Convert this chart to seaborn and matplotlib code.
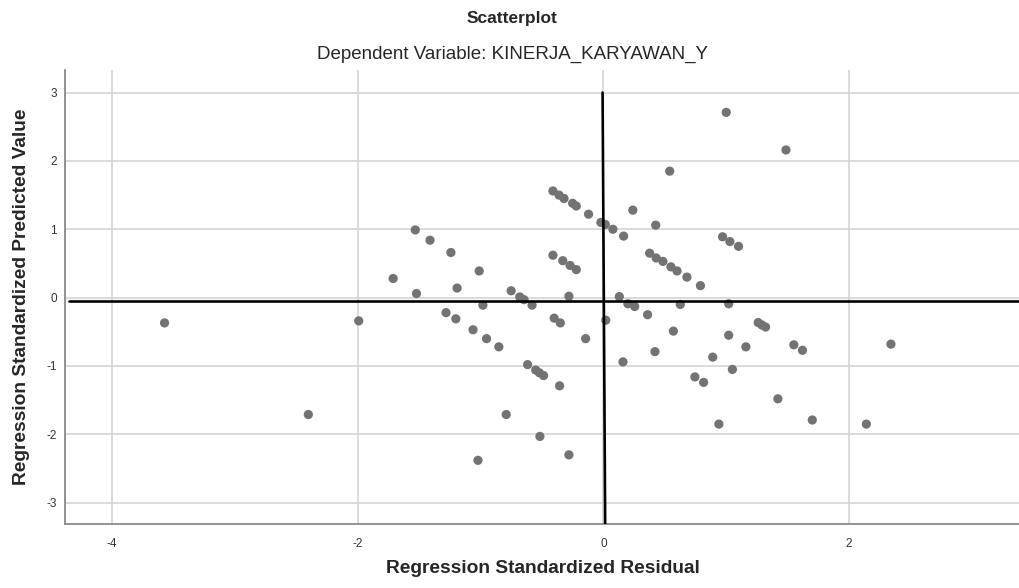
import pandas as pd
import seaborn as sns
import matplotlib.pyplot as plt

# values
residual = [-3.57, -2.40, -1.99, -1.71, -1.53, -1.52, -1.41, -1.24, -1.19, -1.01,
            -0.98, -1.28, -1.20, -1.06, -0.95, -0.85, -0.75, -0.68, -0.645, -0.58,
            -0.79, -1.02, -0.616, -0.55, -0.52, -0.486, -0.356, -0.516, -0.28, -0.41,
            -0.36, -0.32, -0.25, -0.22, -0.12, -0.02, 0.016, 0.078, 0.165, -0.41,
            -0.33, -0.27, -0.22, -0.28, -0.40, -0.35, -0.144, 0.02, 0.13, 0.16,
            0.20, 0.255, 0.36, 0.24, 0.54, 1.00, 1.486, 0.426, 0.97, 1.03,
            1.10, 0.377, 0.43, 0.485, 0.55, 0.60, 0.68, 0.79, 0.626, 1.02,
            0.57, 0.42, 1.02, 1.16, 0.89, 1.05, 1.26, 1.29, 1.32, 1.55,
            1.62, 2.34, 0.745, 0.816, 1.42, 0.94, 1.70, 2.14]
predicted = [-0.37, -1.71, -0.34, 0.28, 0.99, 0.06, 0.84, 0.66, 0.14, 0.39,
             -0.11, -0.22, -0.31, -0.47, -0.60, -0.72, 0.10, 0.01, -0.03, -0.11,
             -1.71, -2.38, -0.98, -1.06, -1.10, -1.14, -1.29, -2.03, -2.30, 1.56,
             1.50, 1.45, 1.38, 1.34, 1.22, 1.10, 1.07, 1.00, 0.90, 0.62,
             0.54, 0.47, 0.41, 0.02, -0.30, -0.37, -0.60, -0.33, 0.015, -0.94,
             -0.09, -0.13, -0.25, 1.28, 1.85, 2.71, 2.16, 1.06, 0.89, 0.82,
             0.75, 0.65, 0.58, 0.53, 0.45, 0.39, 0.30, 0.175, -0.10, -0.09,
             -0.49, -0.79, -0.55, -0.72, -0.87, -1.05, -0.365, -0.40, -0.43, -0.69,
             -0.77, -0.68, -1.16, -1.24, -1.48, -1.85, -1.79, -1.85]

x_ticks = [-4, -2, 0, 2]
y_ticks = [-3, -2, -1, 0, 1, 2, 3]
ref_y = -0.05
ref_x_top = -0.006
ref_x_bottom = 0.015

df = pd.DataFrame({'residual': residual, 'predicted': predicted})

sns.set_theme(style="white")
plt.rcParams['font.family'] = ['Liberation Sans', 'DejaVu Sans']
plt.rcParams['axes.unicode_minus'] = False

fig = plt.figure(figsize=(10.2, 5.88), dpi=100)
ax = fig.add_axes([0.0637, 0.109, 0.9363, 0.772])

ax.grid(True, color='#d4d4d4', linewidth=1.2)
ax.set_axisbelow(True)

sns.scatterplot(x='residual', y='predicted', data=df, color='#737373',
                s=44, edgecolor='none', ax=ax, zorder=3)

ax.set_xlim(-4.38, 3.39)
ax.set_ylim(-3.31, 3.33)

# reference lines at the centre
ax.axhline(ref_y, xmin=0.004, color='black', linewidth=1.9, zorder=4)
ax.plot([ref_x_top, ref_x_bottom], [3, -3.31], color='black', linewidth=1.9, zorder=4)

ax.set_xticks(x_ticks)
ax.set_yticks(y_ticks)
ax.tick_params(length=0, labelsize=8.5, colors='#333333')
ax.tick_params(axis='y', pad=6)
ax.tick_params(axis='x', pad=10)

for side in ['top', 'right']:
    ax.spines[side].set_visible(False)
for side in ['left', 'bottom']:
    ax.spines[side].set_color('#8a8a8a')
    ax.spines[side].set_linewidth(1.3)

ax.set_xlabel('Regression Standardized Residual', fontsize=13.8, fontweight='bold', va='center')
ax.set_ylabel('Regression Standardized Predicted Value', fontsize=13.8, fontweight='bold', va='center')
ax.xaxis.set_label_coords(0.5, -0.099)
ax.yaxis.set_label_coords(-0.046, 0.5)

fig.text(0.502, 0.969, 'Scatterplot', ha='center', va='center', fontsize=12.5, fontweight='bold')
fig.text(0.502, 0.908, 'Dependent Variable: KINERJA_KARYAWAN_Y', ha='center', va='center', fontsize=13.5)

fig.savefig('out.png', dpi=100)
